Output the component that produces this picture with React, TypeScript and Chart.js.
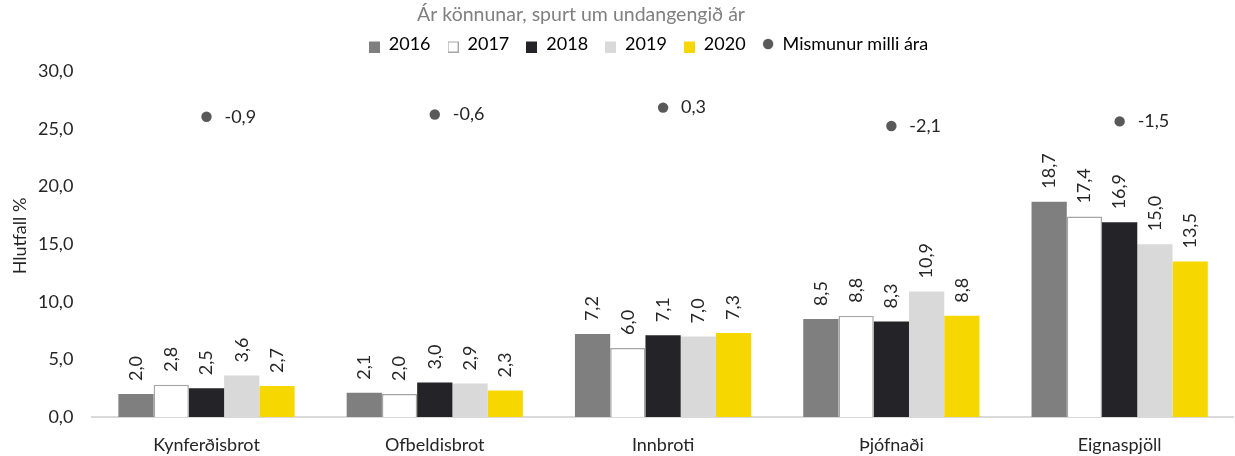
import { useEffect, useRef } from 'react';
import { Chart, registerables } from 'chart.js';

Chart.register(...registerables);

const categories = ['Kynferðisbrot', 'Ofbeldisbrot', 'Innbroti', 'Þjófnaði', 'Eignaspjöll'];
const years = ['2016', '2017', '2018', '2019', '2020'];
const v2016 = [2.0, 2.1, 7.2, 8.5, 18.7];
const v2017 = [2.8, 2.0, 6.0, 8.8, 17.4];
const v2018 = [2.5, 3.0, 7.1, 8.3, 16.9];
const v2019 = [3.6, 2.9, 7.0, 10.9, 15.0];
const v2020 = [2.7, 2.3, 7.3, 8.8, 13.5];
const mismunur = [-0.9, -0.6, 0.3, -2.1, -1.5];
const yTickValues = [0, 5, 10, 15, 20, 25, 30];
const titleText = 'Ár könnunar, spurt um undangengið ár';
const yTitleText = 'Hlutfall %';
const mismunurLabel = 'Mismunur milli ára';

const FONT = 'Lato';
const FS = 18;
const barFills = ['#7f7f7f', '#ffffff', '#242428', '#d9d9d9', '#f6d700'];
const barBorders = ['#7f7f7f', '#a6a6a6', '#242428', '#d9d9d9', '#f6d700'];
const dotColor = '#595959';
const textColor = '#262626';

const fmt = (v: number) => v.toFixed(1).replace('.', ',');

function makeBoxMarker(fill: string, stroke: string) {
  const c = document.createElement('canvas');
  c.width = 11;
  c.height = 17;
  const g = c.getContext('2d')!;
  g.fillStyle = fill;
  g.fillRect(0, 6, 11, 11);
  if (fill !== stroke) {
    g.strokeStyle = stroke;
    g.lineWidth = 1;
    g.strokeRect(0.5, 6.5, 10, 10);
  }
  return c;
}

function makeDotMarker(color: string) {
  const c = document.createElement('canvas');
  c.width = 12;
  c.height = 12;
  const g = c.getContext('2d')!;
  g.fillStyle = color;
  g.beginPath();
  g.arc(6, 6, 5.2, 0, Math.PI * 2);
  g.fill();
  return c;
}

export default function App() {
  const ref = useRef<HTMLCanvasElement | null>(null);

  useEffect(() => {
    document.documentElement.style.overflow = 'hidden';
    document.body.style.overflow = 'hidden';
    document.body.style.margin = '0';
    const canvas = ref.current;
    if (!canvas) return;

    const markers: any[] = barFills.map((f, i) => makeBoxMarker(f, barBorders[i]));
    markers.push(makeDotMarker(dotColor));

    const series = [v2016, v2017, v2018, v2019, v2020];
    const datasets: any[] = series.map((d, i) => ({
      type: 'bar',
      label: years[i],
      data: d,
      backgroundColor: barFills[i],
      borderColor: barBorders[i],
      borderWidth: i === 1 ? 1.5 : 0,
      categoryPercentage: 0.772,
      barPercentage: 1.0,
      yAxisID: 'y',
    }));
    datasets.push({
      type: 'line',
      label: mismunurLabel,
      data: mismunur,
      showLine: false,
      pointRadius: 5.2,
      pointHoverRadius: 5.2,
      pointBackgroundColor: dotColor,
      pointBorderColor: dotColor,
      pointBorderWidth: 0,
      borderColor: dotColor,
      backgroundColor: dotColor,
      yAxisID: 'y2',
    });

    const customPlugin = {
      id: 'customText',
      beforeInit(chart: any) {
        const legend = chart.legend;
        if (legend && !legend._patched) {
          const orig = legend.fit;
          legend.fit = function () {
            orig.call(this);
            this.height += 8.5;
          };
          legend._patched = true;
        }
      },
      afterLayout(chart: any) {
        const y = chart.scales.y;
        if (y) y.left = 0;
      },
      afterDatasetsDraw(chart: any) {
        const ctx = chart.ctx;
        ctx.save();
        chart.data.datasets.forEach((ds: any, i: number) => {
          const meta = chart.getDatasetMeta(i);
          meta.data.forEach((el: any, j: number) => {
            const v = ds.data[j];
            ctx.font = `${FS}px ${FONT}`;
            ctx.fillStyle = textColor;
            if (meta.type === 'bar') {
              ctx.save();
              ctx.translate(el.x, el.y - 13);
              ctx.rotate(-Math.PI / 2);
              ctx.textAlign = 'left';
              ctx.textBaseline = 'middle';
              ctx.fillText(fmt(v), 0, 0);
              ctx.restore();
            } else {
              ctx.textAlign = 'left';
              ctx.textBaseline = 'middle';
              ctx.fillText(fmt(v), el.x + 18, el.y);
            }
          });
        });
        ctx.restore();
      },
      afterDraw(chart: any) {
        const ctx = chart.ctx;
        ctx.save();
        ctx.font = `19.5px ${FONT}`;
        ctx.fillStyle = '#808080';
        ctx.textAlign = 'center';
        ctx.textBaseline = 'middle';
        ctx.fillText(titleText, 581, 15);
        ctx.font = `${FS}px ${FONT}`;
        ctx.fillStyle = textColor;
        ctx.translate(20, 236);
        ctx.rotate(-Math.PI / 2);
        ctx.fillText(yTitleText, 0, 0);
        ctx.restore();
      },
    };

    const chart = new Chart(canvas, {
      type: 'bar',
      data: { labels: categories, datasets },
      plugins: [customPlugin],
      options: {
        animation: false,
        responsive: true,
        maintainAspectRatio: false,
        layout: { padding: { top: 18, left: 58, right: 0, bottom: 0 } },
        font: { family: FONT, size: FS },
        plugins: {
          tooltip: { enabled: false },
          title: { display: false },
          legend: {
            display: true,
            position: 'top',
            labels: {
              usePointStyle: true,
              boxWidth: 11,
              boxHeight: 11,
              padding: 17,
              color: textColor,
              font: { family: FONT, size: FS },
              generateLabels: (ch: any) =>
                ch.data.datasets.map((ds: any, i: number) => ({
                  text: ds.label,
                  pointStyle: markers[i],
                  fillStyle: barFills[i] || dotColor,
                  strokeStyle: barBorders[i] || dotColor,
                  lineWidth: 0,
                  hidden: false,
                  datasetIndex: i,
                })),
            },
          },
        },
        scales: {
          x: {
            type: 'category',
            grid: { display: false, drawTicks: false },
            border: { display: true, color: '#d9d9d9', width: 2 },
            ticks: { color: textColor, font: { family: FONT, size: FS }, padding: 17, maxRotation: 0, autoSkip: false },
            afterFit: (s: any) => { s.height = 39; },
          },
          y: {
            type: 'linear',
            position: 'left',
            min: 0,
            max: 30,
            grid: { display: false, drawTicks: false },
            border: { display: false },
            afterBuildTicks: (s: any) => { s.ticks = yTickValues.map((v) => ({ value: v })); },
            ticks: {
              color: textColor,
              font: { family: FONT, size: FS },
              padding: 19,
              callback: (v: any) => fmt(Number(v)),
            },
            afterFit: (s: any) => { s.width = 34.35; },
          },
          y2: {
            type: 'linear',
            display: false,
            min: -40,
            max: 5,
          },
        },
      } as any,
    });

    return () => chart.destroy();
  }, []);

  return (
    <div style={{ position: 'absolute', left: 0, top: 0, width: 1239, height: 456 }}>
      <canvas ref={ref} />
    </div>
  );
}
